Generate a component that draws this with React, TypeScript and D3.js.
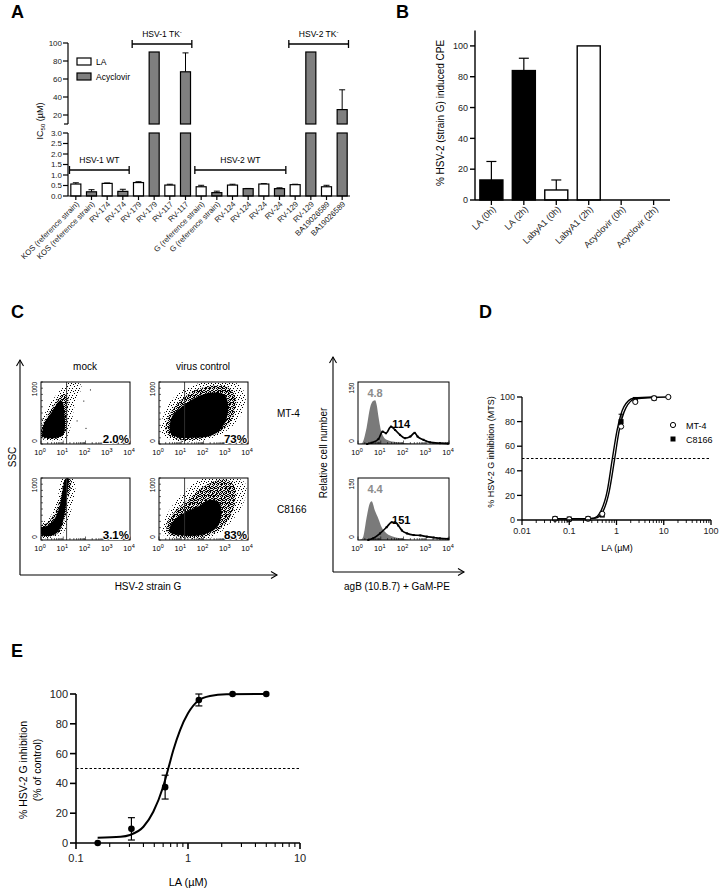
import React from 'react';
import * as d3 from 'd3';

const FONT = "'Liberation Sans', Arial, Helvetica, sans-serif";

// ---------- panel A : IC50 per strain ----------
const aStrains = [
  "KOS (reference strain)", "KOS (reference strain)", "RV-174", "RV-174", "RV-179", "RV-179",
  "RV-117", "RV-117", "G (reference strain)", "G (reference strain)", "RV-124", "RV-124",
  "RV-24", "RV-24", "RV-129", "RV-129", "BA19026589", "BA19026589",
];
const aCompound = ["LA", "Acyclovir", "LA", "Acyclovir", "LA", "Acyclovir", "LA", "Acyclovir", "LA",
  "Acyclovir", "LA", "Acyclovir", "LA", "Acyclovir", "LA", "Acyclovir", "LA", "Acyclovir"];
const aIC50 = [0.57, 0.2, 0.6, 0.22, 0.64, 90, 0.52, 68, 0.44, 0.16, 0.52, 0.35, 0.57, 0.35, 0.54, 90, 0.44, 26];
const aErr = [0.06, 0.1, 0.02, 0.1, 0.04, 0, 0.04, 21, 0.07, 0.07, 0.04, 0.01, 0.02, 0.04, 0.02, 0, 0.07, 22];
const aGroups = [
  { label: "HSV-1 WT", tk: false, from: 0, to: 3, upper: false },
  { label: "HSV-1 TK", tk: true, from: 4, to: 7, upper: true },
  { label: "HSV-2 WT", tk: false, from: 8, to: 13, upper: false },
  { label: "HSV-2 TK", tk: true, from: 14, to: 17, upper: true },
];
const aLowTicks = [0, 0.5, 1, 1.5, 2, 2.5, 3];
const aUpTicks = [20, 40, 60, 80, 100];

// ---------- panel B : time of addition ----------
const bCategories = ["LA (0h)", "LA (2h)", "LabyA1 (0h)", "LabyA1 (2h)", "Acyclovir (0h)", "Acyclovir (2h)"];
const bValues = [13, 84, 6.5, 100, 0, 0];
const bErr = [12, 8, 6.5, 0, 0, 0];
const bFill = ["#000", "#000", "#fff", "#fff", "#fff", "#fff"];
const bTicks = [0, 20, 40, 60, 80, 100];

// ---------- panel C : flow cytometry (log10 fluorescence, SSC) ----------
const mt4MockHalo: [number, number][] = [[0, 90], [0.5, 60], [1.1, 90], [1.35, 300], [1.5, 600], [1.8, 950], [1.3, 990], [0.95, 900], [0.6, 750], [0.2, 520], [0, 300]];
const mt4MockMid: [number, number][] = [[0.03, 110], [0.4, 80], [0.9, 110], [1.15, 260], [1.2, 550], [1.2, 780], [0.95, 800], [0.6, 640], [0.25, 440], [0.03, 260]];
const mt4MockCore: [number, number][] = [[0.08, 120], [0.3, 95], [0.7, 100], [1.0, 150], [1.08, 300], [1.05, 500], [1.0, 650], [0.88, 700], [0.7, 640], [0.45, 500], [0.2, 370], [0.08, 250]];
const mt4VirusHalo: [number, number][] = [[0.15, 150], [0.8, 50], [2, 60], [2.9, 180], [3.6, 420], [3.9, 720], [3.6, 960], [2.8, 990], [1.8, 980], [1.0, 860], [0.4, 620], [0.12, 350]];
const mt4VirusMid: [number, number][] = [[0.35, 170], [0.8, 80], [1.8, 80], [2.7, 180], [3.3, 420], [3.45, 750], [3.1, 920], [2.2, 930], [1.3, 800], [0.7, 600], [0.35, 380]];
const mt4VirusCore: [number, number][] = [[0.5, 200], [0.8, 110], [1.5, 100], [2.3, 130], [2.75, 230], [3.05, 420], [3.1, 650], [2.95, 790], [2.4, 830], [1.7, 760], [1.1, 620], [0.6, 450]];
const c8166MockHalo: [number, number][] = [[0, 50], [0.5, 40], [1.0, 120], [1.3, 400], [1.55, 900], [1.45, 1000], [1.0, 1000], [0.7, 620], [0.35, 340], [0, 270]];
const c8166MockMid: [number, number][] = [[0, 70], [0.4, 55], [0.8, 120], [1.05, 320], [1.2, 650], [1.35, 960], [1.1, 995], [0.9, 720], [0.65, 460], [0.3, 280], [0, 230]];
const c8166MockCore: [number, number][] = [[0.02, 85], [0.3, 65], [0.65, 95], [0.9, 210], [1.05, 400], [1.15, 650], [1.23, 900], [1.25, 985], [1.1, 985], [0.95, 750], [0.8, 500], [0.6, 340], [0.3, 235], [0.03, 200]];
const c8166VirusHalo: [number, number][] = [[0.2, 80], [1, 30], [2.4, 50], [3.2, 280], [3.8, 600], [3.9, 900], [3.5, 1000], [2.0, 1000], [1.2, 800], [0.5, 500], [0.2, 250]];
const c8166VirusMid: [number, number][] = [[0.4, 100], [1, 50], [2.2, 70], [2.9, 230], [3.35, 500], [3.45, 800], [3.2, 950], [2.6, 960], [2.0, 860], [1.3, 650], [0.7, 450], [0.35, 250]];
const c8166VirusCore: [number, number][] = [[0.5, 120], [1.2, 70], [2.0, 90], [2.6, 200], [2.8, 400], [2.7, 600], [2.3, 650], [1.8, 550], [1.2, 450], [0.7, 330], [0.5, 220]];
const flowOutliers: [number, number][] = [[2.0, 260], [1.6, 380], [1.9, 700], [2.2, 880]];
const flowPercent = ["2.0%", "73%", "3.1%", "83%"];
const flowColumns = ["mock", "virus control"];
const flowRows = ["MT-4", "C8166"];
const decades = [0, 1, 2, 3, 4];

// histograms: log10 fluorescence, cell count
const mt4Isotype: [number, number][] = [[0, 0], [0.16, 1], [0.38, 40], [0.53, 88], [0.66, 104], [0.75, 106], [0.82, 95], [0.9, 66], [1.04, 27], [1.26, 10], [1.7, 4], [2.4, 1], [3, 0], [4, 0]];
const mt4Stained: [number, number][] = [[0.4, 0], [0.6, 3], [0.9, 12], [1.08, 30], [1.23, 26], [1.45, 42], [1.63, 34], [1.85, 22], [2.07, 14], [2.3, 18], [2.49, 27], [2.62, 18], [2.88, 10], [3.17, 4], [3.6, 2], [3.96, 1]];
const c8166Isotype: [number, number][] = [[0, 0], [0.15, 2], [0.23, 8], [0.38, 55], [0.5, 86], [0.6, 94], [0.75, 70], [0.9, 51], [1.04, 31], [1.26, 16], [1.56, 8], [2.0, 3], [2.5, 0], [4, 0]];
const c8166Stained: [number, number][] = [[0.45, 0], [0.67, 4], [0.97, 16], [1.26, 31], [1.48, 43], [1.63, 43], [1.77, 35], [1.93, 23], [2.15, 16], [2.45, 12], [2.74, 11], [3.03, 8], [3.33, 6], [3.6, 4], [3.96, 3]];
const histMedians = [["4.8", "114"], ["4.4", "151"]];

// ---------- panel D : MTS dose response ----------
const dConc = [0.05, 0.1, 0.25, 0.5, 1.25, 2.5, 6.25, 12.5];
const dMT4 = [1, 0.5, 1, 5, 76, 96, 99, 100];
const dC8166 = [1.2, 0.8, 1.2, 4, 80, 98, 99, null];
const dC8166Err = [0, 0, 0, 0, 6, 0, 0, 0];
const dFitC8166: [number, number][] = [[0.05, 1], [0.2, 1], [0.33, 1.5], [0.46, 6.8], [0.64, 24], [0.81, 49], [1.03, 73], [1.43, 92], [2.3, 99], [6.25, 100]];
const dFitMT4: [number, number][] = [[0.05, 1], [0.2, 1], [0.36, 1.5], [0.5, 6], [0.7, 23], [0.9, 48], [1.13, 72], [1.57, 91], [2.5, 98.5], [12.5, 100]];
const dXTicks = [0.01, 0.1, 1, 10, 100];
const dYTicks = [0, 20, 40, 60, 80, 100];

// ---------- panel E : dose response ----------
const eConc = [0.15625, 0.3125, 0.625, 1.25, 2.5, 5];
const eMean = [0, 9.5, 37.5, 96, 100, 100];
const eErr = [0, 7.5, 8, 4, 0, 0];
const eFit: [number, number][] = [[0.156, 3.6], [0.25, 4.2], [0.303, 5.4], [0.4, 10.9], [0.49, 21], [0.6, 37.8], [0.667, 50], [0.74, 62.4], [0.85, 75.8], [1.0, 87], [1.24, 95.6], [1.57, 98.7], [2.2, 99.8], [5, 100]];
const eXTicks = [0.1, 1, 10];
const eYTicks = [0, 20, 40, 60, 80, 100];

const logMinor = (lo: number, hi: number) => {
  const out: number[] = [];
  for (let e = lo; e < hi; e++) for (let k = 2; k <= 9; k++) out.push(k * Math.pow(10, e));
  return out;
};

const PanelLabel = ({ x, y, t }: { x: number; y: number; t: string }) => (
  <text x={x} y={y} fontSize={18} fontWeight="bold" fontFamily={FONT}>{t}</text>
);

function PanelA() {
  const x = d3.scaleBand<number>().domain(d3.range(aStrains.length)).range([68, 350]).paddingInner(0.36).paddingOuter(0.18);
  const yLow = d3.scaleLinear().domain([0, 3]).range([196, 133]);
  const yUp = d3.scaleLinear().domain([10, 100]).range([124, 43]);
  const bw = x.bandwidth();
  return (
    <g fontFamily={FONT}>
      <PanelLabel x={11} y={18} t="A" />
      {aIC50.map((v, i) => {
        const x0 = x(i)!;
        const cx = x0 + bw / 2;
        const fill = aCompound[i] === "LA" ? "#fff" : "#7f7f7f";
        const big = v > 3;
        const top = big ? yUp(v + aErr[i]) : yLow(v + aErr[i]);
        const barTop = big ? yUp(v) : yLow(v);
        return (
          <g key={i}>
            {aErr[i] > 0 && (
              <g stroke="#000" strokeWidth={1}>
                <line x1={cx} x2={cx} y1={barTop} y2={top} />
                <line x1={cx - 3} x2={cx + 3} y1={top} y2={top} />
              </g>
            )}
            {big ? (
              <>
                <rect x={x0} y={yLow(3)} width={bw} height={yLow(0) - yLow(3)} fill={fill} stroke="#000" strokeWidth={1.2} />
                <rect x={x0} y={yUp(v)} width={bw} height={yUp(10) - yUp(v)} fill={fill} stroke="#000" strokeWidth={1.2} />
              </>
            ) : (
              <rect x={x0} y={yLow(v)} width={bw} height={yLow(0) - yLow(v)} fill={fill} stroke="#000" strokeWidth={1.2} />
            )}
            <line x1={cx} x2={cx} y1={196} y2={200} stroke="#000" strokeWidth={1.2} />
          </g>
        );
      })}
      <g opacity={0.999}>
        {aStrains.map((s, i) => (
          <text key={i} transform={`translate(${x(i)! + bw / 2 + 2},${203}) rotate(-45)`} textAnchor="end" fontSize={7.8} dy="0.3em" fill="#222">{s}</text>
        ))}
      </g>
      {/* axes */}
      <g stroke="#000" strokeWidth={1.2}>
        <line x1={68} x2={350} y1={196} y2={196} />
        <line x1={68} x2={68} y1={196} y2={133} />
        <line x1={68} x2={68} y1={124} y2={43} />
        <line x1={64} x2={68} y1={124} y2={124} />
        {aLowTicks.map(t => <line key={t} x1={63} x2={68} y1={yLow(t)} y2={yLow(t)} />)}
        {aUpTicks.map(t => <line key={t} x1={63} x2={68} y1={yUp(t)} y2={yUp(t)} />)}
      </g>
      <g fontSize={8} textAnchor="end" fill="#222">
        {aLowTicks.map(t => <text key={t} x={62} y={yLow(t)} dy="0.35em">{t.toFixed(1)}</text>)}
        {aUpTicks.map(t => <text key={t} x={62} y={yUp(t)} dy="0.35em">{t}</text>)}
      </g>
      <text transform="translate(43,121) rotate(-90)" textAnchor="middle" fontSize={9} opacity={0.999}>
        IC<tspan dy={2} fontSize={6}>50</tspan><tspan dy={-2}> (µM)</tspan>
      </text>
      {/* legend */}
      <rect x={77} y={58} width={14} height={7} fill="#fff" stroke="#000" strokeWidth={1.2} />
      <rect x={77} y={73} width={14} height={7} fill="#7f7f7f" stroke="#000" strokeWidth={1.2} />
      <text x={96} y={64.5} fontSize={8.5}>LA</text>
      <text x={96} y={79.5} fontSize={8.5}>Acyclovir</text>
      {/* group brackets */}
      {aGroups.map(g => {
        const xa = x(g.from)! - x.step() * x.paddingInner() / 2 + 1.5;
        const xb = x(g.to)! + bw + x.step() * x.paddingInner() / 2 - 1.5;
        const yb = g.upper ? 44 : 170;
        return (
          <g key={g.label}>
            <g stroke="#000" strokeWidth={1.3}>
              <line x1={xa} x2={xb} y1={yb} y2={yb} />
              <line x1={xa} x2={xa} y1={yb - 4} y2={yb + 4} />
              <line x1={xb} x2={xb} y1={yb - 4} y2={yb + 4} />
            </g>
            <text x={(xa + xb) / 2} y={yb - 7} textAnchor="middle" fontSize={8.5}>
              {g.label}{g.tk && <tspan dy={-3} fontSize={6}>-</tspan>}
            </text>
          </g>
        );
      })}
    </g>
  );
}

function PanelB() {
  const x = d3.scaleBand<string>().domain(bCategories).range([475, 670]).paddingInner(0.29).paddingOuter(0.15);
  const y = d3.scaleLinear().domain([0, 110]).range([200, 30.5]);
  const bw = x.bandwidth();
  return (
    <g fontFamily={FONT}>
      <PanelLabel x={396} y={18} t="B" />
      {bCategories.map((c, i) => {
        const x0 = x(c)!;
        const cx = x0 + bw / 2;
        return (
          <g key={c}>
            {bErr[i] > 0 && (
              <g stroke="#000" strokeWidth={1.2}>
                <line x1={cx} x2={cx} y1={y(bValues[i])} y2={y(bValues[i] + bErr[i])} />
                <line x1={cx - 5} x2={cx + 5} y1={y(bValues[i] + bErr[i])} y2={y(bValues[i] + bErr[i])} />
              </g>
            )}
            {bValues[i] > 0 && (
              <rect x={x0} y={y(bValues[i])} width={bw} height={y(0) - y(bValues[i])} fill={bFill[i]} stroke="#000" strokeWidth={1.4} />
            )}
            <line x1={cx} x2={cx} y1={200} y2={205} stroke="#000" strokeWidth={1.3} />
          </g>
        );
      })}
      <g opacity={0.999}>
        {bCategories.map(c => (
          <text key={c} transform={`translate(${x(c)! + bw / 2 + 3},${208}) rotate(-45)`} textAnchor="end" dy="0.3em" fontSize={9} fill="#222">{c}</text>
        ))}
      </g>
      <g stroke="#000" strokeWidth={1.4}>
        <line x1={475} x2={670} y1={200} y2={200} />
        <line x1={475} x2={475} y1={200} y2={30.5} />
        {bTicks.map(t => <line key={t} x1={470} x2={475} y1={y(t)} y2={y(t)} />)}
      </g>
      <g fontSize={9} textAnchor="end" fill="#222">
        {bTicks.map(t => <text key={t} x={468} y={y(t)} dy="0.35em">{t}</text>)}
      </g>
      <text transform="translate(444,113) rotate(-90)" textAnchor="middle" fontSize={10} opacity={0.999}>% HSV-2 (strain G) induced CPE</text>
    </g>
  );
}

function FlowBox({ x0, y0, w, h, layers, outliers, gate, pct, id }: {
  x0: number; y0: number; w: number; h: number; layers: [number, number][][]; outliers: [number, number][]; gate: number; pct: string; id: string;
}) {
  const xs = d3.scaleLinear().domain([0, 4]).range([x0, x0 + w]);
  const ys = d3.scaleLinear().domain([0, 1000]).range([y0 + h, y0]);
  const path = d3.line<[number, number]>().x(d => xs(d[0])).y(d => ys(d[1])).curve(d3.curveCatmullRomClosed);
  const fills = ["url(#pSparse)", "url(#pMid)", "#000"];
  const minor = [0, 1, 2, 3].flatMap(e => d3.range(2, 10).map(k => e + Math.log10(k)));
  return (
    <g>
      <clipPath id={id}><rect x={x0} y={y0} width={w} height={h} /></clipPath>
      <g clipPath={`url(#${id})`}>
        {layers.map((l, i) => <path key={i} d={path(l)!} fill={fills[i]} />)}
        {outliers.map((p, i) => <rect key={i} x={xs(p[0])} y={ys(p[1])} width={1} height={1} fill="#000" />)}
      </g>
      <line x1={xs(gate)} x2={xs(gate)} y1={y0} y2={y0 + h} stroke="#333" strokeWidth={0.9} />
      <rect x={x0} y={y0} width={w} height={h} fill="none" stroke="#000" strokeWidth={1} />
      <g stroke="#000" strokeWidth={0.6}>
        {decades.map(d => <line key={d} x1={xs(d)} x2={xs(d)} y1={y0 + h} y2={y0 + h - 3.5} />)}
        {minor.map(m => <line key={m} x1={xs(m)} x2={xs(m)} y1={y0 + h} y2={y0 + h - 2} />)}
        {d3.range(0, 1001, 100).map(t => <line key={t} x1={x0} x2={x0 + 2} y1={ys(t)} y2={ys(t)} />)}
      </g>
      <text x={x0 + w - 1} y={y0 + h - 1.5} textAnchor="end" fontSize={11.5} fontWeight="bold" stroke="#fff" strokeWidth={2} paintOrder="stroke">{pct}</text>
      <text transform={`translate(${x0 - 4},${y0 + 7}) rotate(-90)`} textAnchor="middle" fontSize={6.5}>1000</text>
      <text transform={`translate(${x0 - 4},${y0 + h - 3}) rotate(-90)`} textAnchor="middle" fontSize={6.5}>0</text>
      {decades.map(d => (
        <text key={d} x={xs(d) - 1} y={y0 + h + 11} textAnchor="middle" fontSize={7.5}>10<tspan dy={-3.5} fontSize={5.5}>{d}</tspan></text>
      ))}
    </g>
  );
}

function HistBox({ x0, y0, w, h, iso, stained, labels }: {
  x0: number; y0: number; w: number; h: number; iso: [number, number][]; stained: [number, number][]; labels: string[];
}) {
  const xs = d3.scaleLinear().domain([0, 4]).range([x0, x0 + w]);
  const ys = d3.scaleLinear().domain([0, 150]).range([y0 + h, y0]);
  const area = d3.area<[number, number]>().x(d => xs(d[0])).y0(ys(0)).y1(d => ys(d[1])).curve(d3.curveMonotoneX);
  const line = d3.line<[number, number]>().x(d => xs(d[0])).y(d => ys(d[1])).curve(d3.curveMonotoneX);
  const minor = [0, 1, 2, 3].flatMap(e => d3.range(2, 10).map(k => e + Math.log10(k)));
  return (
    <g>
      <path d={area(iso)!} fill="#7a7a7a" />
      <path d={line(stained)!} fill="none" stroke="#000" strokeWidth={1.7} />
      {stained.map((p, i) => <rect key={i} x={xs(p[0]) - 1} y={ys(p[1]) - 1} width={2} height={2} fill="#000" />)}
      <rect x={x0} y={y0} width={w} height={h} fill="none" stroke="#000" strokeWidth={1} />
      <g stroke="#000" strokeWidth={0.6}>
        {decades.map(d => <line key={d} x1={xs(d)} x2={xs(d)} y1={y0 + h} y2={y0 + h - 3.5} />)}
        {minor.map(m => <line key={m} x1={xs(m)} x2={xs(m)} y1={y0 + h} y2={y0 + h - 2} />)}
      </g>
      <text x={xs(0.75)} y={y0 + 15} textAnchor="middle" fontSize={11} fontWeight="bold" fill="#8c8c8c">{labels[0]}</text>
      <text x={xs(1.9)} y={y0 + 46} textAnchor="middle" fontSize={11} fontWeight="bold">{labels[1]}</text>
      <text transform={`translate(${x0 - 4},${y0 + 6}) rotate(-90)`} textAnchor="middle" fontSize={6.5}>150</text>
      <text transform={`translate(${x0 - 4},${y0 + h - 3}) rotate(-90)`} textAnchor="middle" fontSize={6.5}>0</text>
      {decades.map(d => (
        <text key={d} x={xs(d) - 1} y={y0 + h + 11} textAnchor="middle" fontSize={7.5}>10<tspan dy={-3.5} fontSize={5.5}>{d}</tspan></text>
      ))}
    </g>
  );
}

function PanelC() {
  const colX = [41, 159];
  const rowY = [382, 478];
  const layers = [
    [[mt4MockHalo, mt4MockMid, mt4MockCore], [mt4VirusHalo, mt4VirusMid, mt4VirusCore]],
    [[c8166MockHalo, c8166MockMid, c8166MockCore], [c8166VirusHalo, c8166VirusMid, c8166VirusCore]],
  ];
  return (
    <g fontFamily={FONT}>
      <PanelLabel x={11} y={318} t="C" />
      <defs>
        <pattern id="pSparse" width={7} height={7} patternUnits="userSpaceOnUse">
          {[[0, 0], [4, 1], [2, 3], [6, 3], [1, 5], [5, 5], [3, 6]].map(([a, b], i) => <rect key={i} x={a} y={b} width={1} height={1} fill="#000" />)}
        </pattern>
        <pattern id="pMid" width={4} height={4} patternUnits="userSpaceOnUse">
          {[[0, 0], [2, 0], [1, 1], [3, 2], [0, 2], [2, 3], [1, 3]].map(([a, b], i) => <rect key={i} x={a} y={b} width={1.1} height={1.1} fill="#000" />)}
        </pattern>
      </defs>
      {flowColumns.map((c, i) => <text key={c} x={colX[i] + 44} y={370} textAnchor="middle" fontSize={10}>{c}</text>)}
      {flowRows.map((r, j) => <text key={r} x={277} y={rowY[j] + 35} fontSize={10}>{r}</text>)}
      {rowY.map((y0, j) => colX.map((x0, i) => (
        <FlowBox key={`${i}-${j}`} id={`clip${i}${j}`} x0={x0} y0={y0} w={89} h={62}
          layers={layers[j][i]} outliers={i === 0 && j === 0 ? flowOutliers : []} gate={1.15} pct={flowPercent[j * 2 + i]} />
      )))}
      <HistBox x0={358} y0={382} w={91} h={62} iso={mt4Isotype} stained={mt4Stained} labels={histMedians[0]} />
      <HistBox x0={358} y0={478} w={91} h={62} iso={c8166Isotype} stained={c8166Stained} labels={histMedians[1]} />
      {/* outer arrows */}
      <g stroke="#000" strokeWidth={1.1} fill="none">
        <line x1={20} x2={20} y1={575} y2={360} />
        <line x1={20} x2={277} y1={575} y2={575} />
        <polyline points="16.5,366 20,360 23.5,366" />
        <polyline points="271,571.5 277,575 271,578.5" />
        <line x1={333} x2={333} y1={572} y2={357} />
        <line x1={333} x2={464} y1={572} y2={572} />
        <polyline points="329.5,363 333,357 336.5,363" />
        <polyline points="458,568.5 464,572 458,575.5" />
      </g>
      <text transform="translate(16,457) rotate(-90)" textAnchor="middle" fontSize={10}>SSC</text>
      <text x={148} y={590} textAnchor="middle" fontSize={10}>HSV-2 strain G</text>
      <text transform="translate(327,453) rotate(-90)" textAnchor="middle" fontSize={10}>Relative cell number</text>
      <text x={397} y={590} textAnchor="middle" fontSize={10}>agB (10.B.7) + GaM-PE</text>
    </g>
  );
}

function PanelD() {
  const x = d3.scaleLog().domain([0.01, 100]).range([522, 711]);
  const y = d3.scaleLinear().domain([0, 100]).range([520, 397]);
  const line = d3.line<[number, number]>().x(d => x(d[0])).y(d => y(d[1])).curve(d3.curveMonotoneX);
  return (
    <g fontFamily={FONT}>
      <PanelLabel x={479} y={318} t="D" />
      <line x1={522} x2={711} y1={y(50)} y2={y(50)} stroke="#000" strokeWidth={1} strokeDasharray="2.5,2" />
      <path d={line(dFitC8166)!} fill="none" stroke="#000" strokeWidth={1.4} />
      <path d={line(dFitMT4)!} fill="none" stroke="#000" strokeWidth={1.4} />
      {dConc.map((c, i) => dC8166Err[i] > 0 && dC8166[i] != null && (
        <g key={c} stroke="#000" strokeWidth={1}>
          <line x1={x(c)} x2={x(c)} y1={y(dC8166[i]!)} y2={y(dC8166[i]! + dC8166Err[i])} />
          <line x1={x(c) - 2.5} x2={x(c) + 2.5} y1={y(dC8166[i]! + dC8166Err[i])} y2={y(dC8166[i]! + dC8166Err[i])} />
        </g>
      ))}
      {dConc.map((c, i) => dC8166[i] != null && (
        <rect key={c} x={x(c) - 2.5} y={y(dC8166[i]!) - 2.5} width={5} height={5} fill="#000" />
      ))}
      {dConc.map((c, i) => (
        <circle key={c} cx={x(c)} cy={y(dMT4[i])} r={2.6} fill="#fff" stroke="#000" strokeWidth={1} />
      ))}
      <g stroke="#000" strokeWidth={1.3}>
        <line x1={522} x2={711} y1={520} y2={520} />
        <line x1={522} x2={522} y1={520} y2={397} />
        {dYTicks.map(t => <line key={t} x1={517} x2={522} y1={y(t)} y2={y(t)} />)}
        {dXTicks.map(t => <line key={t} x1={x(t)} x2={x(t)} y1={520} y2={525} />)}
      </g>
      <g stroke="#000" strokeWidth={0.9}>
        {logMinor(-2, 2).map(t => <line key={t} x1={x(t)} x2={x(t)} y1={520} y2={523} />)}
      </g>
      <g fontSize={9} fill="#222">
        {dYTicks.map(t => <text key={t} x={515} y={y(t)} dy="0.35em" textAnchor="end">{t}</text>)}
        {dXTicks.map(t => <text key={t} x={x(t)} y={534} textAnchor="middle">{t}</text>)}
      </g>
      <text x={617} y={551} textAnchor="middle" fontSize={9}>LA (µM)</text>
      <text transform="translate(494,452) rotate(-90)" textAnchor="middle" fontSize={9}>% HSV-2 G inhibition (MTS)</text>
      <circle cx={673} cy={425} r={2.6} fill="#fff" stroke="#000" strokeWidth={1} />
      <rect x={670.5} y={436.5} width={5} height={5} fill="#000" />
      <text x={686} y={428.5} fontSize={9}>MT-4</text>
      <text x={686} y={442.5} fontSize={9}>C8166</text>
    </g>
  );
}

function PanelE() {
  const x = d3.scaleLog().domain([0.1, 10]).range([76, 300]);
  const y = d3.scaleLinear().domain([0, 100]).range([843, 694]);
  const line = d3.line<[number, number]>().x(d => x(d[0])).y(d => y(d[1])).curve(d3.curveMonotoneX);
  return (
    <g fontFamily={FONT}>
      <PanelLabel x={11} y={657} t="E" />
      <line x1={76} x2={300} y1={y(50)} y2={y(50)} stroke="#000" strokeWidth={1.1} strokeDasharray="2.5,2" />
      <path d={line(eFit)!} fill="none" stroke="#000" strokeWidth={2} />
      {eConc.map((c, i) => eErr[i] > 0 && (
        <g key={c} stroke="#000" strokeWidth={1.2}>
          <line x1={x(c)} x2={x(c)} y1={y(eMean[i] - eErr[i])} y2={y(eMean[i] + eErr[i])} />
          <line x1={x(c) - 3.5} x2={x(c) + 3.5} y1={y(eMean[i] + eErr[i])} y2={y(eMean[i] + eErr[i])} />
          <line x1={x(c) - 3.5} x2={x(c) + 3.5} y1={y(eMean[i] - eErr[i])} y2={y(eMean[i] - eErr[i])} />
        </g>
      ))}
      {eConc.map((c, i) => <circle key={c} cx={x(c)} cy={y(eMean[i])} r={3.3} fill="#000" />)}
      <g stroke="#000" strokeWidth={1.6}>
        <line x1={76} x2={300} y1={843} y2={843} />
        <line x1={76} x2={76} y1={843} y2={694} />
        {eYTicks.map(t => <line key={t} x1={70} x2={76} y1={y(t)} y2={y(t)} />)}
        {eXTicks.map(t => <line key={t} x1={x(t)} x2={x(t)} y1={843} y2={849} />)}
      </g>
      <g stroke="#000" strokeWidth={1.1}>
        {logMinor(-1, 1).map(t => <line key={t} x1={x(t)} x2={x(t)} y1={843} y2={847} />)}
      </g>
      <g fontSize={11} fill="#222">
        {eYTicks.map(t => <text key={t} x={68} y={y(t)} dy="0.36em" textAnchor="end">{t}</text>)}
        {eXTicks.map(t => <text key={t} x={x(t)} y={862} textAnchor="middle">{t}</text>)}
      </g>
      <text x={188} y={886} textAnchor="middle" fontSize={11}>LA (µM)</text>
      <text transform="translate(27,770) rotate(-90)" textAnchor="middle" fontSize={10.5}>% HSV-2 G inhibition</text>
      <text transform="translate(41,770) rotate(-90)" textAnchor="middle" fontSize={10.5}>(% of control)</text>
    </g>
  );
}

export default function App() {
  return (
    <svg width={724} height={890} style={{ position: 'absolute', left: 0, top: 0, background: '#fff' }}>
      <rect width={724} height={890} fill="#fff" />
      <PanelA />
      <PanelB />
      <PanelC />
      <PanelD />
      <PanelE />
    </svg>
  );
}
